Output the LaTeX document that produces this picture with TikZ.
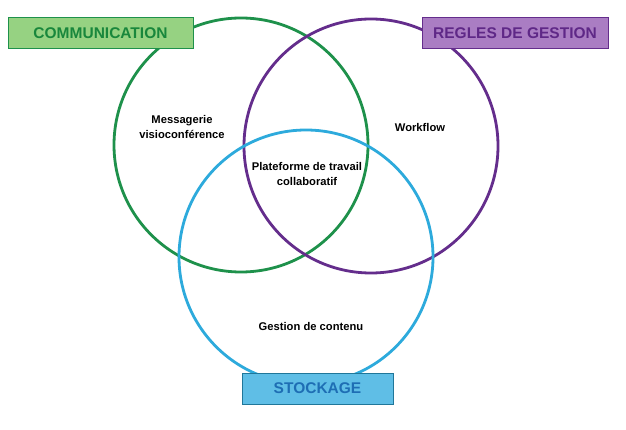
\documentclass[tikz,border=0pt]{standalone}
\usepackage{fontspec}
\setmainfont{Liberation Sans}
\definecolor{cgreen}{RGB}{30,145,75}
\definecolor{cgreenfill}{RGB}{150,210,130}
\definecolor{cgreentext}{RGB}{25,135,60}
\definecolor{cpurple}{RGB}{100,45,140}
\definecolor{cpurplefill}{RGB}{170,125,195}
\definecolor{cpurpletext}{RGB}{95,40,135}
\definecolor{cblue}{RGB}{45,170,220}
\definecolor{cbluefill}{RGB}{95,190,230}
\definecolor{cbluetext}{RGB}{30,110,180}
\tikzset{
  ring/.style={line width=2.8pt},
  tag/.style={draw, line width=1pt, minimum width=#1, minimum height=31pt, inner sep=0pt, font=\fontsize{15.5}{17}\selectfont\bfseries},
  lbl/.style={align=center, font=\fontsize{11.2}{14.5}\selectfont\bfseries, text=black}
}
\begin{document}
\begin{tikzpicture}[x=1pt,y=-1pt]
\useasboundingbox[fill=white] (0,0) rectangle (626,430);
\node[circle, ring, draw=cgreen, minimum size=254pt, inner sep=0pt] (g) at (241,145) {};
\node[circle, ring, draw=cpurple, minimum size=254pt, inner sep=0pt] (p) at (371,146) {};
\node[circle, ring, draw=cblue, minimum size=254pt, inner sep=0pt] (b) at (306,257) {};
\node[tag=185pt, draw=cgreen, fill=cgreenfill, text=cgreentext] (com) at (100.5,33.5) {COMMUNICATION};
\node[tag=186pt, draw=cpurple, fill=cpurplefill, text=cpurpletext] (reg) at (515,33.5) {REGLES DE GESTION};
\node[tag=151pt, draw=cblue!70!black, fill=cbluefill, text=cbluetext] (sto) at (317.5,388.5) {STOCKAGE};
\node[lbl] (msg) at (182,127) {Messagerie\\visioconférence};
\node[lbl] (plat) at (307,174) {Plateforme de travail\\collaboratif};
\node[lbl] (wf) at (420,127) {Workflow};
\node[lbl] (gc) at (311,326) {Gestion de contenu};
\end{tikzpicture}
\end{document}
